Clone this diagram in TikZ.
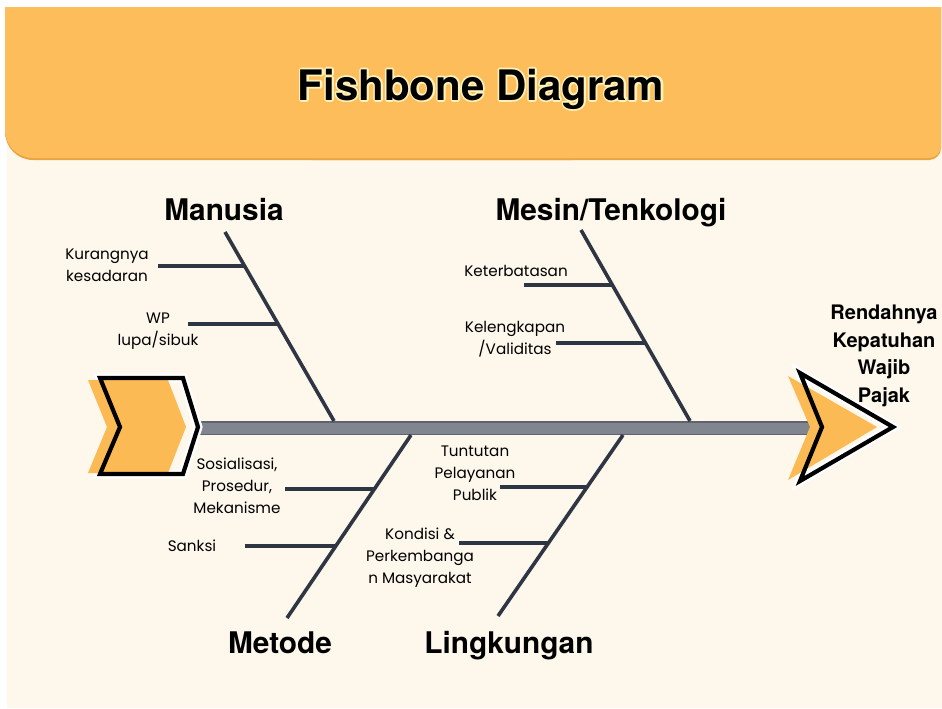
\documentclass[tikz,border=0pt]{standalone}
\usepackage{fontspec}
\setmainfont{Poppins}
\newfontfamily\headfont{TeX Gyre Heros}
\usetikzlibrary{calc}

\definecolor{band}{HTML}{FDBD5A}
\definecolor{bandshade}{HTML}{E9A544}
\definecolor{cream}{HTML}{FEF7EC}
\definecolor{bonec}{HTML}{2F3643}
\definecolor{spinec}{HTML}{80858F}
\definecolor{spineedge}{HTML}{5E636D}
\definecolor{chev}{HTML}{FBBA53}

% glowing title: a stroked copy of the text lies under the filled one
\newcommand\glowtext[1]{\leavevmode\rlap{\special{pdf:literal direct 1 Tr 3.5 w 1 j 1 0.95 0.72 RG}#1\special{pdf:literal direct 0 Tr}}#1}

\begin{document}
\begin{tikzpicture}[x=1pt,y=-1pt,
  bone/.style={line width=3.6pt, draw=bonec},
  rib/.style={line width=3.6pt, draw=bonec},
  cause/.style={font=\fontsize{15.2}{22}\selectfont, align=center, inner sep=0pt, text=black},
  cat/.style={font=\headfont\bfseries\fontsize{29.8}{29.8}\selectfont, anchor=base, inner sep=0pt},
  outline/.style={line width=4.2pt, draw=black, line join=miter},
  halo/.style={line width=9pt, draw=white, line join=miter},
]
\useasboundingbox (0,0) rectangle (942,709);

% page and header band
\fill[white] (0,0) rectangle (942,709);
\fill[cream] (7,7) rectangle (942,708);
\fill[bandshade, rounded corners=28pt] (5,-40) rectangle (600,160);
\fill[bandshade, rounded corners=12pt] (300,-40) rectangle (941,160);
\fill[band, rounded corners=28pt] (5,-40) rectangle (600,158);
\fill[band, rounded corners=12pt] (300,-40) rectangle (941,158);
\fill[white] (0,-50) rectangle (942,7);

\node[font=\headfont\bfseries\fontsize{42}{42}\selectfont, anchor=base, inner sep=0pt]
  (title) at (481,100) {\glowtext{Fishbone Diagram}};

% spine
\coordinate (s1) at (196,428);
\coordinate (s2) at (810,428);
\draw[line width=14pt, spineedge] (s1) -- (s2);
\draw[line width=11pt, spinec] (s1) -- (s2);

% tail chevron
\draw[halo] (100,378) -- (183,378) -- (198,427) -- (183,474) -- (100,474) -- (120,427) -- cycle;
\fill[chev] (88,380) -- (168,380) -- (186,427) -- (168,473) -- (88,473) -- (107,427) -- cycle;
\draw[outline] (100,378) -- (183,378) -- (198,427) -- (183,474) -- (100,474) -- (120,427) -- cycle;

% head chevron
\draw[halo] (800,373) -- (893,427) -- (800,481) -- (822,427) -- cycle;
\fill[chev] (788,376) -- (877,427) -- (788,480) -- (810,427) -- cycle;
\draw[outline] (800,373) -- (893,427) -- (800,481) -- (822,427) -- cycle;

\node[font=\headfont\bfseries\fontsize{20}{27.5}\selectfont, align=center, inner sep=0pt]
  (effect) at (884,356) {Rendahnya\\Kepatuhan\\Wajib\\Pajak};

% category labels
\node[cat] (manusia) at (224,220) {Manusia};
\node[cat] (mesin) at (611,220) {Mesin/Tenkologi};
\node[cat] (metode) at (280,653) {Metode};
\node[cat] (lingkungan) at (509,653) {Lingkungan};

% main bones
\coordinate (m1) at (225,232); \coordinate (m2) at (334,421);
\coordinate (t1) at (581,230); \coordinate (t2) at (690,421);
\coordinate (d1) at (411,435); \coordinate (d2) at (287,618);
\coordinate (l1) at (623,435); \coordinate (l2) at (498,616);
\draw[bone] (m1) -- (m2);
\draw[bone] (t1) -- (t2);
\draw[bone] (d1) -- (d2);
\draw[bone] (l1) -- (l2);

% ribs: free end on the left, other end on the bone
\coordinate (r1a) at (158,266); \coordinate (r1b) at ($(m1)!{(266-232)/(421-232)}!(m2)$);
\coordinate (r2a) at (188,324); \coordinate (r2b) at ($(m1)!{(324-232)/(421-232)}!(m2)$);
\coordinate (r3a) at (524,285); \coordinate (r3b) at ($(t1)!{(285-230)/(421-230)}!(t2)$);
\coordinate (r4a) at (556,343); \coordinate (r4b) at ($(t1)!{(343-230)/(421-230)}!(t2)$);
\coordinate (r5a) at (285,489); \coordinate (r5b) at ($(d1)!{(489-435)/(618-435)}!(d2)$);
\coordinate (r6a) at (245,546); \coordinate (r6b) at ($(d1)!{(546-435)/(618-435)}!(d2)$);
\coordinate (r7a) at (500,487); \coordinate (r7b) at ($(l1)!{(487-435)/(616-435)}!(l2)$);
\coordinate (r8a) at (459,543); \coordinate (r8b) at ($(l1)!{(543-435)/(616-435)}!(l2)$);
\foreach \r in {1,...,8} \draw[rib] (r\r a) -- (r\r b);

% causes
\node[cause] (kesadaran) at (107,265) {Kurangnya\\kesadaran};
\node[cause] (lupa) at (158,331) {WP\\lupa/sibuk};
\node[cause] (keterbatasan) at (516,271) {Keterbatasan};
\node[cause] (validitas) at (515,339) {Kelengkapan\\/Validitas};
\node[cause] (prosedur) at (237,486) {Sosialisasi,\\Prosedur,\\Mekanisme};
\node[cause] (sanksi) at (192,546) {Sanksi};
\node[cause] (publik) at (475,473) {Tuntutan\\Pelayanan\\Publik};
\node[cause] (masyarakat) at (420,558) {Kondisi \&\\Perkembanga\\n Masyarakat};
\end{tikzpicture}
\end{document}
